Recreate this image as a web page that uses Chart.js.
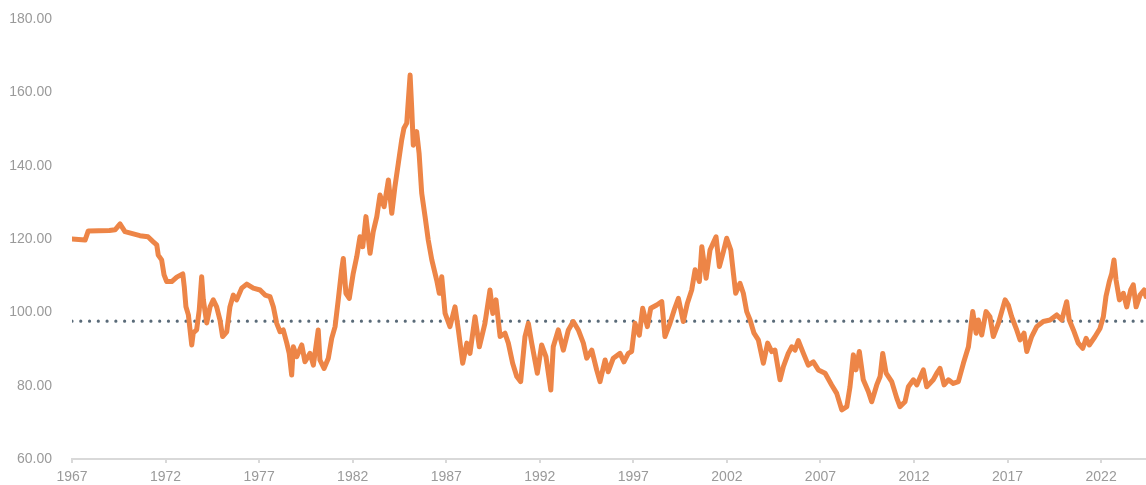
<!DOCTYPE html>
<html>
<head>
<meta charset="utf-8">
<script src="https://cdn.jsdelivr.net/npm/chart.js@4"></script>
<style>
  html, body { margin: 0; padding: 0; background: #ffffff; }
  #wrap { width: 1146px; height: 485px; position: relative; }
</style>
</head>
<body>
<div id="wrap"><canvas id="c"></canvas></div>
<script>
// Decimal years and index values
const years = [
  1967.0, 1967.7, 1967.87, 1969.0, 1969.3, 1969.57, 1969.83, 1970.63, 1971.06, 1971.33,
  1971.53, 1971.61, 1971.79, 1971.92, 1972.06, 1972.33, 1972.6, 1972.92, 1973.0, 1973.09,
  1973.22, 1973.4, 1973.48, 1973.66, 1973.8, 1973.93, 1974.02, 1974.2, 1974.38, 1974.55,
  1974.73, 1974.91, 1975.05, 1975.27, 1975.44, 1975.62, 1975.8, 1976.07, 1976.34, 1976.69,
  1977.05, 1977.32, 1977.58, 1977.76, 1977.94, 1978.12, 1978.29, 1978.48, 1978.61, 1978.74,
  1978.83, 1979.01, 1979.28, 1979.45, 1979.72, 1979.90, 1980.16, 1980.25, 1980.47, 1980.70,
  1980.88, 1981.06, 1981.23, 1981.41, 1981.50, 1981.64, 1981.82, 1982.03, 1982.22, 1982.39,
  1982.54, 1982.71, 1982.93, 1983.10, 1983.29, 1983.46, 1983.68, 1983.91, 1984.09, 1984.26,
  1984.44, 1984.62, 1984.74, 1984.89, 1985.07, 1985.16, 1985.24, 1985.42, 1985.55, 1985.69,
  1985.87, 1986.04, 1986.23, 1986.49, 1986.63, 1986.76, 1986.94, 1987.20, 1987.47, 1987.65,
  1987.88, 1988.10, 1988.27, 1988.54, 1988.77, 1989.07, 1989.34, 1989.49, 1989.66, 1989.88,
  1990.14, 1990.32, 1990.55, 1990.77, 1990.98, 1991.21, 1991.39, 1991.57, 1991.87, 1992.10,
  1992.33, 1992.59, 1992.72, 1992.99, 1993.26, 1993.53, 1993.79, 1994.06, 1994.33, 1994.51,
  1994.78, 1995.04, 1995.22, 1995.49, 1995.66, 1995.93, 1996.29, 1996.50, 1996.73, 1996.91,
  1997.09, 1997.32, 1997.50, 1997.75, 1997.93, 1998.25, 1998.52, 1998.69, 1998.96, 1999.18,
  1999.41, 1999.67, 1999.89, 2000.12, 2000.30, 2000.53, 2000.66, 2000.89, 2001.10, 2001.42,
  2001.60, 2001.81, 2001.99, 2002.21, 2002.35, 2002.47, 2002.70, 2002.88, 2003.06, 2003.24,
  2003.45, 2003.68, 2003.95, 2004.18, 2004.40, 2004.57, 2004.84, 2005.02, 2005.28, 2005.47,
  2005.64, 2005.82, 2006.09, 2006.35, 2006.62, 2006.89, 2007.25, 2007.60, 2007.87, 2008.14,
  2008.41, 2008.58, 2008.76, 2008.90, 2009.08, 2009.29, 2009.56, 2009.74, 2010.01, 2010.19,
  2010.33, 2010.51, 2010.81, 2011.08, 2011.25, 2011.52, 2011.70, 2011.97, 2012.15, 2012.50,
  2012.68, 2013.03, 2013.22, 2013.39, 2013.61, 2013.84, 2014.10, 2014.37, 2014.64, 2014.91,
  2015.14, 2015.32, 2015.44, 2015.62, 2015.85, 2016.06, 2016.24, 2016.51, 2016.69, 2016.87,
  2017.04, 2017.22, 2017.49, 2017.67, 2017.88, 2018.03, 2018.29, 2018.56, 2018.91, 2019.27,
  2019.63, 2019.90, 2020.16, 2020.30, 2020.52, 2020.78, 2021.02, 2021.20, 2021.37, 2021.68,
  2021.94, 2022.12, 2022.26, 2022.44, 2022.57, 2022.69, 2022.80, 2022.98, 2023.19, 2023.37,
  2023.58, 2023.72, 2023.87, 2024.08, 2024.30, 2024.40
];
const values = [
  120.0, 119.7, 122.2, 122.3, 122.5, 124.1, 122.0, 120.9, 120.6, 119.3,
  118.4, 115.6, 114.3, 110.2, 108.4, 108.4, 109.6, 110.5, 107.0, 101.5,
  99.3, 91.1, 94.4, 95.2, 100.6, 109.7, 103.4, 97.1, 101.5, 103.4,
  101.5, 97.9, 93.4, 94.7, 101.5, 104.7, 103.4, 106.6, 107.7, 106.6,
  106.1, 104.7, 104.3, 101.5, 97.0, 94.7, 95.2, 91.6, 88.8, 82.9,
  90.6, 87.9, 91.1, 86.5, 88.8, 85.6, 95.2, 87.0, 84.7, 87.5,
  92.9, 96.1, 103.4, 111.6, 114.7, 105.2, 103.8, 110.6, 115.2, 120.6,
  117.9, 126.1, 116.1, 122.0, 126.1, 132.0, 128.8, 136.1, 127.0, 134.3,
  140.6, 147.0, 150.2, 151.6, 164.7, 155.2, 145.6, 149.3, 143.4, 132.5,
  126.1, 119.7, 114.3, 108.8, 105.2, 109.7, 99.7, 96.1, 101.5, 95.2,
  86.1, 91.6, 88.8, 98.8, 90.6, 97.0, 106.1, 99.7, 103.4, 93.4,
  94.3, 91.6, 86.1, 82.5, 81.1, 93.4, 97.0, 91.6, 83.4, 91.1,
  87.9, 78.8, 90.6, 95.2, 89.7, 95.2, 97.5, 95.2, 91.6, 87.5,
  89.7, 84.3, 81.1, 87.0, 83.8, 87.5, 88.8, 86.5, 88.8, 89.3,
  97.0, 93.8, 101.1, 96.1, 101.1, 102.0, 102.9, 93.4, 97.0, 100.6,
  103.8, 97.5, 102.5, 106.1, 111.6, 108.4, 117.9, 109.3, 117.0, 120.6,
  112.5, 116.5, 120.2, 117.0, 110.6, 105.2, 107.9, 105.2, 100.2, 97.9,
  94.3, 92.5, 86.1, 91.6, 89.3, 89.7, 81.6, 85.2, 88.8, 90.6,
  89.7, 92.3, 88.8, 85.6, 86.5, 84.3, 83.4, 80.2, 77.9, 73.4,
  74.3, 79.7, 88.4, 84.3, 89.3, 81.6, 78.4, 75.6, 80.2, 82.5,
  88.8, 83.4, 81.1, 76.6, 74.3, 75.6, 79.7, 81.6, 80.2, 84.3,
  79.7, 81.6, 83.4, 84.7, 80.2, 81.6, 80.6, 81.1, 86.1, 90.6,
  100.2, 94.3, 97.9, 93.8, 100.2, 98.8, 93.4, 97.0, 100.2, 103.4,
  102.0, 98.8, 95.2, 92.5, 94.3, 89.3, 93.4, 96.1, 97.5, 97.9,
  99.3, 97.9, 102.9, 97.9, 95.2, 91.6, 90.2, 92.9, 91.1, 93.4,
  95.6, 98.8, 104.3, 108.4, 110.6, 114.3, 108.8, 103.4, 105.2, 101.5,
  106.1, 107.5, 101.5, 104.7, 106.1, 104.3
];
const meanValue = 97.6;
const xTickYears = [1967, 1972, 1977, 1982, 1987, 1992, 1997, 2002, 2007, 2012, 2017, 2022];
const yTickValues = [60, 80, 100, 120, 140, 160, 180];

const xMin = years[0];
const xMax = years[years.length - 1];

const seriesPoints = years.map((y, i) => ({ x: y, y: values[i] }));
const meanPoints = [{ x: xMin, y: meanValue }, { x: xMax, y: meanValue }];

const FONT = "'Liberation Sans', Arial, sans-serif";
const TICK_COLOR = '#9a9a9a';

new Chart(document.getElementById('c'), {
  type: 'line',
  data: {
    datasets: [
      {
        data: meanPoints,
        borderColor: '#596a78',
        borderWidth: 3.2,
        borderDash: [0, 8.77],
        borderCapStyle: 'round',
        pointRadius: 0,
        fill: false,
        order: 2
      },
      {
        data: seriesPoints,
        borderColor: '#ED8547',
        borderWidth: 5,
        borderJoinStyle: 'round',
        borderCapStyle: 'round',
        pointRadius: 0,
        tension: 0,
        fill: false,
        order: 1
      }
    ]
  },
  options: {
    responsive: true,
    maintainAspectRatio: false,
    animation: false,
    layout: { padding: { top: 19, right: 0, bottom: 0, left: 0 } },
    plugins: { legend: { display: false }, tooltip: { enabled: false } },
    scales: {
      x: {
        type: 'linear',
        min: xMin,
        max: xMax,
        afterBuildTicks: (scale) => { scale.ticks = xTickYears.map(v => ({ value: v })); },
        afterFit: (scale) => { scale.height = 26; },
        ticks: {
          callback: (v) => String(v),
          color: TICK_COLOR,
          font: { family: FONT, size: 14 },
          padding: 6,
          maxRotation: 0,
          autoSkip: false
        },
        grid: {
          display: true,
          drawOnChartArea: false,
          drawTicks: true,
          tickLength: 4,
          color: '#d9d9d9',
          lineWidth: 2
        },
        border: { display: true, color: '#d9d9d9', width: 2 }
      },
      y: {
        type: 'linear',
        min: 60,
        max: 180,
        afterBuildTicks: (scale) => { scale.ticks = yTickValues.map(v => ({ value: v })); },
        afterFit: (scale) => { scale.width = 72; scale.paddingTop = 0; scale.paddingBottom = 0; },
        ticks: {
          callback: (v) => Number(v).toFixed(2),
          color: TICK_COLOR,
          font: { family: FONT, size: 14 },
          padding: 20
        },
        grid: { display: false, drawTicks: false },
        border: { display: false }
      }
    }
  }
});
</script>
</body>
</html>
